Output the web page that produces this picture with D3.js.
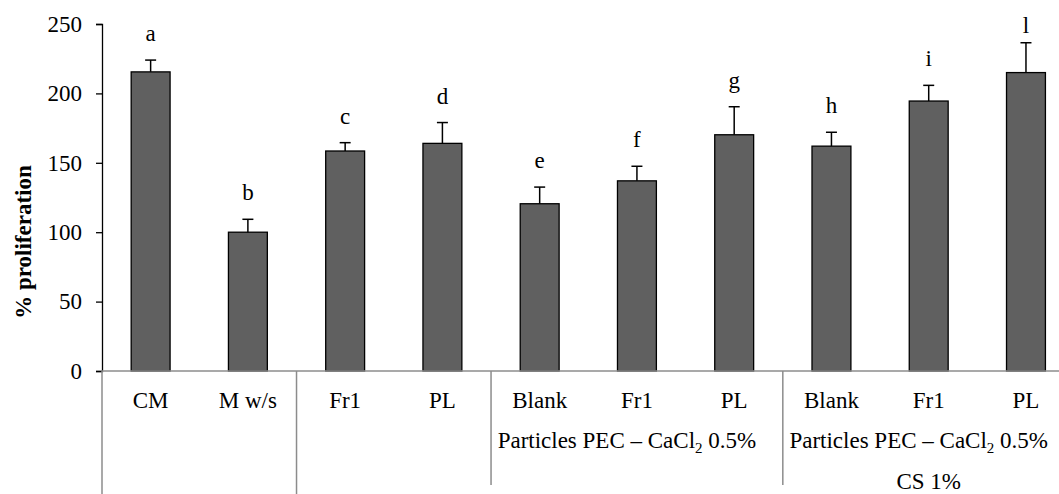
<!DOCTYPE html>
<html>
<head>
<meta charset="utf-8">
<script src="https://cdn.jsdelivr.net/npm/d3@7"></script>
<style>
  html, body { margin: 0; padding: 0; background: #fff; }
  svg { display: block; }
  text { font-family: "Liberation Serif", "Times New Roman", serif; fill: #000; }
</style>
</head>
<body>
<div id="chart"></div>
<script>
// data
const categories = ["CM", "M w/s", "Fr1", "PL", "Blank", "Fr1", "PL", "Blank", "Fr1", "PL"];
const means = [215.5, 100, 158.5, 164, 120.5, 137, 170.2, 162, 194.5, 215];
const errors = [8.5, 9.3, 6, 15, 12, 10.5, 20.2, 10, 11.3, 21.5];
const letters = ["a", "b", "c", "d", "e", "f", "g", "h", "i", "l"];
const groupStarts = [0, 2, 4, 7];   // index of first category in each group
const groupLabels = ["", "", "Particles PEC \u2013 CaCl|2| 0.5%", "Particles PEC \u2013 CaCl|2| 0.5%"];
const groupLabels2 = ["", "", "", "CS 1%"];
const yTicks = [0, 50, 100, 150, 200, 250];

const W = 1059, H = 494;
const margin = { top: 24, left: 102, bottom: 123 };
const plotRight = 1074.6; // plot runs past the image edge (cropped)
const fontSize = 23;

const svg = d3.select("#chart").append("svg")
    .attr("width", W)
    .attr("height", H);

const x = d3.scaleBand()
    .domain(d3.range(categories.length))
    .range([margin.left, plotRight])
    .paddingInner(0)
    .paddingOuter(0);

const y = d3.scaleLinear()
    .domain([0, 250])
    .range([H - margin.bottom, margin.top]);

const barW = x.bandwidth() * 0.4;
const y0 = y(0);

// bars
svg.append("g").selectAll("rect")
    .data(means)
    .join("rect")
    .attr("x", (d, i) => x(i) + x.bandwidth() / 2 - barW / 2)
    .attr("y", d => y(d))
    .attr("width", barW)
    .attr("height", d => y0 - y(d))
    .attr("fill", "#606060")
    .attr("stroke", "#000")
    .attr("stroke-width", 1.3);

// error bars (upper only)
const eb = svg.append("g").attr("stroke", "#000").attr("stroke-width", 1.5);
means.forEach((m, i) => {
    const cx = x(i) + x.bandwidth() / 2;
    eb.append("line")
        .attr("x1", cx).attr("x2", cx)
        .attr("y1", y(m)).attr("y2", y(m + errors[i]));
    eb.append("line")
        .attr("x1", cx - 5.5).attr("x2", cx + 5.5)
        .attr("y1", y(m + errors[i])).attr("y2", y(m + errors[i]));
});

// significance letters
svg.append("g").selectAll("text")
    .data(letters)
    .join("text")
    .attr("x", (d, i) => x(i) + x.bandwidth() / 2)
    .attr("y", (d, i) => Math.max(y(means[i] + errors[i]) - 19, 33))
    .attr("text-anchor", "middle")
    .style("font-size", fontSize + "px")
    .text(d => d);

// y axis
const yAxis = svg.append("g")
    .attr("transform", `translate(${margin.left},0)`)
    .call(d3.axisLeft(y).tickValues(yTicks).tickSize(6).tickPadding(14));
yAxis.select(".domain").attr("stroke", "#000").attr("stroke-width", 1.3);
yAxis.selectAll(".tick line").attr("stroke", "#000").attr("stroke-width", 1.3);
yAxis.selectAll(".tick text")
    .style("font-size", fontSize + "px")
    .style("font-family", "'Liberation Serif', 'Times New Roman', serif")
    .attr("fill", "#000");

// y title
svg.append("text")
    .attr("transform", "translate(31,242) rotate(-90)")
    .attr("text-anchor", "middle")
    .style("font-size", fontSize + "px")
    .style("font-weight", "bold")
    .text("% proliferation");

// x axis line
svg.append("line")
    .attr("x1", margin.left).attr("x2", plotRight)
    .attr("y1", y0).attr("y2", y0)
    .attr("stroke", "#8c8c8c")
    .attr("stroke-width", 1.5);

// category labels
svg.append("g").selectAll("text")
    .data(categories)
    .join("text")
    .attr("x", (d, i) => x(i) + x.bandwidth() / 2)
    .attr("y", y0 + 37)
    .attr("text-anchor", "middle")
    .style("font-size", fontSize + "px")
    .text(d => d);

// group separators
const sep = svg.append("g").attr("stroke", "#8c8c8c").attr("stroke-width", 1.5);
groupStarts.forEach((s, gi) => {
    const full = gi < 2;
    sep.append("line")
        .attr("x1", x(s)).attr("x2", x(s))
        .attr("y1", y0).attr("y2", full ? H : y0 + 114);
});

// group labels
groupStarts.forEach((s, gi) => {
    const e = gi + 1 < groupStarts.length ? groupStarts[gi + 1] : categories.length;
    const cx = (x(s) + x(e - 1) + x.bandwidth()) / 2;
    if (groupLabels[gi]) {
        const parts = groupLabels[gi].split("|");
        const t = svg.append("text")
            .attr("x", cx - 10)
            .attr("y", y0 + 77)
            .attr("text-anchor", "middle")
            .style("font-size", fontSize + "px");
        t.append("tspan").text(parts[0]);
        t.append("tspan").attr("dy", 5).style("font-size", "15px").text(parts[1]);
        t.append("tspan").attr("dy", -5).text(parts[2]);
    }
    if (groupLabels2[gi]) {
        svg.append("text")
            .attr("x", cx)
            .attr("y", y0 + 118)
            .attr("text-anchor", "middle")
            .style("font-size", fontSize + "px")
            .text(groupLabels2[gi]);
    }
});
</script>
</body>
</html>
